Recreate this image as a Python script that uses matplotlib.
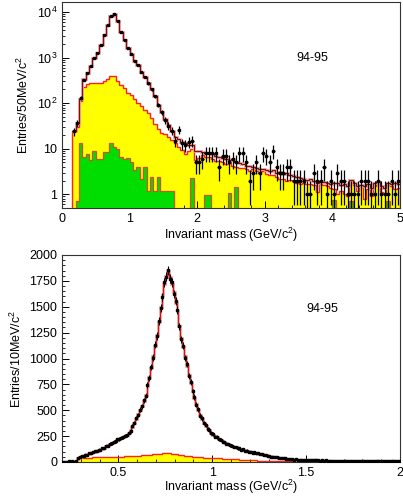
import numpy as np
import matplotlib
matplotlib.use("Agg")
import matplotlib.pyplot as plt
from matplotlib.ticker import MultipleLocator, FixedLocator, NullFormatter

plt.rcParams['font.family'] = ['Liberation Sans', 'DejaVu Sans']
plt.rcParams['mathtext.fontset'] = 'custom'
plt.rcParams['mathtext.rm'] = 'Liberation Sans'
plt.rcParams['mathtext.it'] = 'Liberation Sans'

# ---- top panel: 50 MeV bins, 0.15 - 5.0 GeV ----
top_edges = np.round(np.arange(0.15, 5.0001, 0.05), 3)
top_data = [24, 36, 130, 320, 450, 650, 1000, 1230, 1880, 3100,
            5200, 8300, 8900, 6400, 3700, 2400, 1600, 1170, 820, 680,
            470, 380, 270, 200, 140, 90, 63, 42, 32, 25,
            15, 26, 13, 12, 14, 15, 5, 5, 6, 8,
            8, 8, 8, 4, 7, 7, 5, 6, 5, 8,
            8, 5, 2, 3, 5, 3, 8, 7, 5, 9,
            4, 3, 3, 4, 4, 2, 2, 2, 2, 1,
            1, 3, 2, 2, 4, 1, 2, 1, 3, 2,
            2, 1, 1, 1, 1, 2, 2, 2, 1, 1,
            2, 1, 1, 1, 2, 1, 2]
top_total = [24, 36, 120, 330, 450, 650, 980, 1250, 1900, 3100,
             5200, 8200, 9000, 6400, 3700, 2400, 1600, 1170, 820, 680,
             480, 380, 280, 200, 140, 92, 65, 44, 33, 25,
             18, 16, 14, 13, 12, 12, 9, 9, 8.5, 8,
             8, 7.5, 7, 6.5, 6.2, 6, 5.6, 5.8, 5, 4.8,
             4.6, 4.2, 4.2, 4.0, 3.8, 3.5, 3.6, 3.4, 3.3, 3.4,
             3.0, 3.1, 2.8, 2.9, 2.6, 2.5, 2.4, 2.3, 2.2, 2.1,
             2.2, 2.0, 1.8, 2.0, 1.9, 1.8, 1.7, 1.8, 1.8, 1.6,
             1.7, 1.5, 2.1, 1.8, 1.5, 1.6, 1.5, 1.7, 1.4, 1.8,
             1.9, 1.5, 1.4, 1.8, 1.7, 1.8, 1.7]
top_yellow = [24, 30, 110, 230, 260, 270, 275, 275, 280, 300,
              330, 390, 390, 300, 250, 210, 170, 150, 120, 100,
              85, 70, 60, 47, 34, 27, 22, 21, 18, 15.5,
              13, 11, 9.3, 7.8, 9, 10, 5.6, 6.2, 7.2, 6.6,
              6.5, 6, 5.5, 5.5, 5, 4.5, 4.8, 4.2, 4, 3.8,
              3.8, 3.5, 3.3, 3.5, 3.2, 3.0, 3.2, 2.8, 2.6, 2.7,
              2.4, 2.2, 2.2, 2.0, 2.1, 2.0, 1.8, 1.7, 1.8, 1.7,
              1.7, 1.6, 1.1, 1.7, 1.6, 1.5, 1.4, 1.3, 1.0, 1.2,
              1.0, 0.9, 2.0, 1.6, 1.2, 1.5, 0.8, 1.3, 0.9, 1.5,
              1.7, 1.1, 1.0, 1.6, 1.5, 1.3, 1.4]
top_green = [0, 0.7, 13, 6.5, 7.5, 5.6, 9, 6, 6, 8.3,
             8.3, 13, 11, 10, 6.5, 6, 6.3, 5, 3.4, 4,
             2.2, 4, 1.2, 2.4, 1.2, 2.4, 1.2, 1.2, 1.2, 1.2,
             0, 0, 0, 0, 0, 2.3, 0, 0, 0, 0.95,
             0.95, 0, 0, 0, 0, 0, 1.05, 0, 1.45, 0,
             0, 0, 0, 0, 0, 0, 0, 0, 0, 0,
             0, 0, 0, 0, 0, 0, 0, 0, 0, 0,
             0, 0, 0, 0, 0, 0, 0, 0.75, 0, 0,
             0, 0, 0.7, 0, 0, 0, 0, 0, 0, 0,
             0, 0, 0, 0.7, 0, 0, 0]

# ---- bottom panel: 10 MeV bins, 0.2 - 2.0 GeV ----
bot_edges = np.round(np.arange(0.2, 2.0001, 0.01), 3)
bot_total = [3, 2, 3, 4, 3, 5, 6, 12, 35, 50,
             55, 60, 65, 75, 80, 85, 95, 100, 108, 115,
             122, 130, 140, 150, 162, 172, 183, 195, 205, 215,
             225, 232, 240, 250, 262, 280, 305, 340, 380, 420,
             460, 500, 545, 590, 650, 730, 820, 910, 1020, 1120,
             1230, 1350, 1500, 1610, 1720, 1800, 1845, 1790, 1720, 1640,
             1540, 1460, 1310, 1200, 1110, 1020, 930, 840, 760, 690,
             620, 560, 500, 455, 415, 380, 350, 325, 305, 285,
             265, 250, 238, 225, 212, 200, 190, 180, 172, 164,
             156, 148, 141, 135, 129, 123, 118, 113, 108, 103,
             98, 94, 90, 86, 82, 78, 74, 70, 66, 62,
             58, 55, 52, 49, 46, 43, 40, 37, 35, 33,
             31, 29, 27, 25, 24, 23, 22, 21, 20, 19,
             18, 18, 17, 17, 16, 16, 15, 15, 15, 14,
             14, 14, 13, 13, 13, 12, 12, 12, 12, 11,
             11, 11, 11, 10, 10, 10, 10, 10, 9, 9,
             9, 9, 9, 9, 8, 8, 8, 8, 8, 8,
             8, 7, 7, 7, 7, 7, 7, 7, 6, 6]
bot_data = [4, 1, 3, 5, 2, 6, 4, 14, 38, 47,
            58, 57, 68, 72, 84, 83, 97, 103, 105, 118,
            119, 134, 137, 153, 158, 176, 180, 198, 201, 219,
            222, 236, 238, 255, 258, 285, 300, 347, 376, 428,
            452, 507, 538, 598, 642, 741, 812, 921, 1008, 1135,
            1218, 1362, 1485, 1592, 1735, 1790, 1852, 1770, 1735, 1625,
            1555, 1470, 1310, 1185, 1125, 1005, 945, 830, 772, 682,
            628, 552, 508, 448, 421, 375, 356, 318, 310, 280,
            270, 246, 242, 221, 216, 196, 193, 176, 175, 160,
            159, 145, 144, 131, 132, 120, 121, 110, 111, 100,
            100, 91, 92, 84, 84, 75, 76, 68, 68, 60,
            59, 53, 53, 47, 47, 41, 41, 36, 36, 31,
            32, 28, 28, 24, 25, 22, 23, 20, 21, 18,
            19, 17, 18, 16, 17, 15, 16, 14, 16, 13,
            15, 13, 14, 12, 14, 11, 13, 11, 13, 10,
            12, 10, 12, 9, 11, 9, 11, 9, 10, 8,
            10, 8, 10, 8, 9, 7, 9, 7, 9, 7,
            9, 6, 8, 6, 8, 6, 8, 6, 7, 5]
bot_yellow = [0, 0, 0, 0, 0, 0, 0, 0, 30,
              35, 37, 38, 40, 41, 42, 43,
              44, 45, 46, 47, 47, 48, 48, 49, 49, 50,
              50, 51, 51, 52, 52, 53, 53, 54, 55, 56,
              57, 58, 59, 60, 61, 62, 63, 65, 66, 68,
              70, 72, 74, 76, 78, 80, 82, 83, 84, 85,
              84, 83, 81, 79, 76, 73, 70, 67, 64, 61,
              58, 56, 54, 52, 50, 48, 46, 45, 44, 43,
              42, 41, 40, 39, 38, 37, 36, 35, 34, 33,
              32, 31, 30, 29, 28, 27, 26, 25, 24, 23,
              22, 21, 20, 19, 18, 17, 16, 15, 14, 13,
              12, 12, 11, 11, 10, 10, 9, 9, 8, 8,
              7, 7, 7, 6, 6, 6, 5, 5, 5, 5,
              4, 4, 4, 4, 4, 4, 4, 3, 3, 3,
              3, 3, 3, 3, 3, 3, 3, 3, 3, 3,
              3, 3, 3, 3, 3, 3, 3, 3, 3, 3,
              3, 3, 3, 3, 2, 2, 2, 2, 2, 2,
              2, 2, 2, 2, 2, 2, 2, 2, 2, 2,
              2, 2, 2, 2]

assert len(top_data) == len(top_total) == len(top_yellow) == len(top_green) == len(top_edges) - 1
assert len(bot_data) == len(bot_total) == len(bot_yellow) == len(bot_edges) - 1

FS = 9
fig = plt.figure(figsize=(4.03, 4.96), dpi=100)

# ================= top panel =================
ax1 = fig.add_axes([62/403, 1 - 208/496, 338/403, 206/496])
floor = 0.1
yel = np.where(np.array(top_yellow) > 0, top_yellow, floor)
grn = np.where(np.array(top_green) > 0, top_green, floor)
ax1.stairs(yel, top_edges, baseline=floor, fill=True, color='#ffff00', zorder=1)
ax1.stairs(yel, top_edges, baseline=floor, color='#ff2020', lw=1.0, zorder=2)
ax1.stairs(grn, top_edges, baseline=floor, fill=True, color='#00dd00', zorder=3)
ax1.stairs(grn, top_edges, baseline=floor, color='#d05020', lw=0.9, zorder=4)
ax1.stairs(top_total, top_edges, baseline=None, color='#f0a0a0', lw=2.0, zorder=5)
ax1.stairs(top_total, top_edges, baseline=None, color='#7a1010', lw=0.8, zorder=6)

tc = 0.5 * (top_edges[1:] + top_edges[:-1])
td = np.array(top_data, float)
terr = np.sqrt(td)
tlo = np.minimum(terr, td - 0.05)
ax1.errorbar(tc, td, yerr=[tlo, terr], xerr=0.025, fmt='s', ms=2, color='black',
             ecolor='black', elinewidth=0.9, capsize=0, zorder=7)

ax1.set_yscale('log')
ax1.set_xlim(0, 5)
ax1.set_ylim(0.5, 1.65e4)
ax1.yaxis.set_major_locator(FixedLocator([1, 10, 100, 1000, 10000]))
ax1.set_yticklabels(['1', '10', '10$^{2}$', '10$^{3}$', '10$^{4}$'])
ax1.yaxis.set_minor_formatter(NullFormatter())
ax1.xaxis.set_major_locator(MultipleLocator(1))
ax1.xaxis.set_minor_locator(MultipleLocator(0.2))
ax1.set_xlabel('Invariant mass (GeV/c$^{2}$)', fontsize=FS, labelpad=1)
ax1.set_ylabel('Entries/50MeV/c$^{2}$', fontsize=FS, labelpad=4)
ax1.text(3.71, 1000, '94-95', fontsize=FS, ha='center', va='center')

# ================= bottom panel =================
ax2 = fig.add_axes([62/403, 1 - 462/496, 338/403, 207/496])
ax2.stairs(bot_yellow, bot_edges, baseline=0, fill=True, color='#ffff00', zorder=1)
ax2.stairs(bot_yellow, bot_edges, baseline=None, color='#ff2020', lw=1.0, zorder=2)
ax2.stairs(bot_total, bot_edges, baseline=None, color='#f0a0a0', lw=2.0, zorder=3)
ax2.stairs(bot_total, bot_edges, baseline=None, color='#d01010', lw=0.7, zorder=4)

bc = 0.5 * (bot_edges[1:] + bot_edges[:-1])
bd = np.array(bot_data, float)
ax2.errorbar(bc, bd, yerr=np.sqrt(bd), xerr=0.005, fmt='s', ms=1.6, color='black',
             ecolor='black', elinewidth=0.8, capsize=0, zorder=5)

ax2.set_xlim(0.2, 2.0)
ax2.set_ylim(0, 2000)
ax2.xaxis.set_major_locator(FixedLocator([0.5, 1.0, 1.5, 2.0]))
ax2.set_xticklabels(['0.5', '1', '1.5', '2'])
ax2.xaxis.set_minor_locator(MultipleLocator(0.1))
ax2.yaxis.set_major_locator(MultipleLocator(250))
ax2.yaxis.set_minor_locator(MultipleLocator(50))
ax2.set_xlabel('Invariant mass (GeV/c$^{2}$)', fontsize=FS, labelpad=-1)
ax2.set_ylabel('Entries/10MeV/c$^{2}$', fontsize=FS, labelpad=4)
ax2.text(1.587, 1478, '94-95', fontsize=FS, ha='center', va='center')

for ax in (ax1, ax2):
    ax.tick_params(which='both', direction='in', top=False, right=False, labelsize=FS)
    ax.tick_params(which='major', length=5, width=0.7)
    ax.tick_params(which='minor', length=2.5, width=0.6)
    for s in ax.spines.values():
        s.set_linewidth(0.8)
        s.set_color('#333333')

fig.savefig('out.png', dpi=100)
